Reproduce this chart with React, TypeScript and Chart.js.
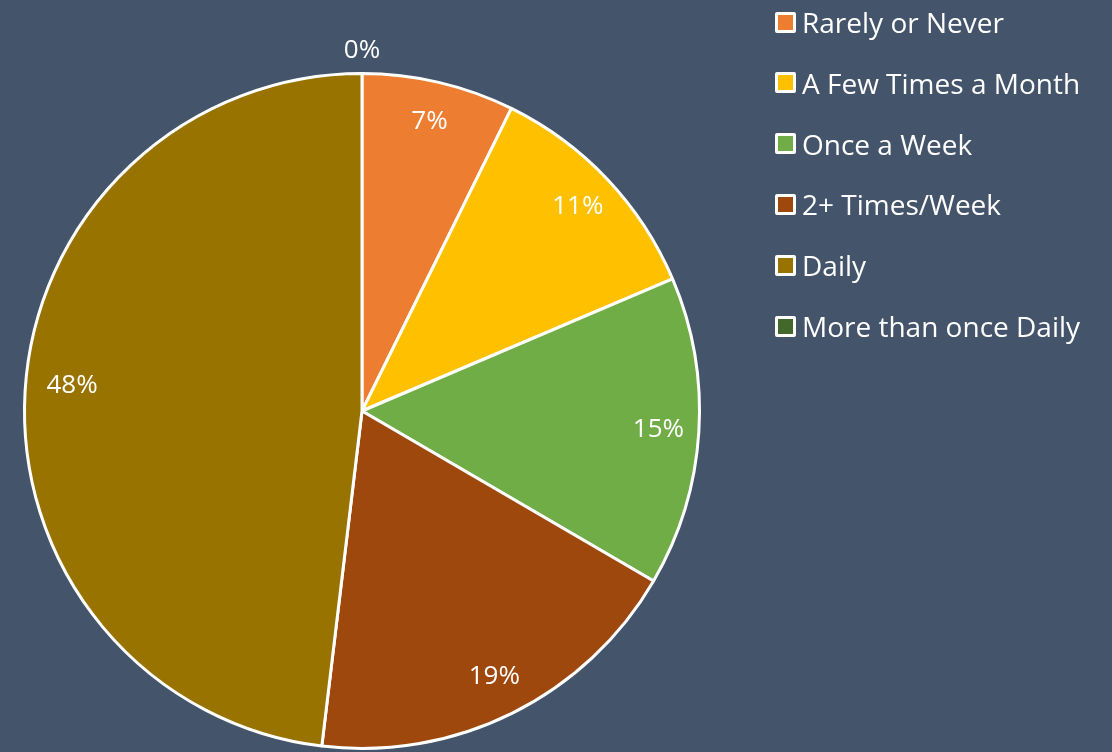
import React, { useEffect, useRef } from "react";
import { Chart, registerables } from "chart.js";

Chart.register(...registerables);

const categories = [
  "Rarely or Never",
  "A Few Times a Month",
  "Once a Week",
  "2+ Times/Week",
  "Daily",
  "More than once Daily",
];
const values = [7.3, 11.3, 14.8, 18.5, 48.1, 0];
const percentLabels = ["7%", "11%", "15%", "19%", "48%", "0%"];
const colors = ["#ED7D31", "#FFC000", "#70AD47", "#9E480E", "#997300", "#43682B"];

const BG = "#44546A";
const FONT = "'Open Sans', Lato, sans-serif";

const labelPlugin = {
  id: "pctLabels",
  afterDatasetsDraw(chart: any) {
    const ctx = chart.ctx;
    const meta = chart.getDatasetMeta(0);
    ctx.save();
    ctx.fillStyle = "#FFFFFF";
    ctx.font = `26px ${FONT}`;
    ctx.textAlign = "center";
    ctx.textBaseline = "middle";
    meta.data.forEach((arc: any, i: number) => {
      const { x, y, startAngle, endAngle, outerRadius } = arc.getProps(
        ["x", "y", "startAngle", "endAngle", "outerRadius"],
        true
      );
      const mid = (startAngle + endAngle) / 2;
      const dist = values[i] === 0 ? outerRadius + 23 : outerRadius * 0.88;
      let lx = x + Math.cos(mid) * dist;
      let ly = y + Math.sin(mid) * dist;
      const w = ctx.measureText(percentLabels[i]).width;
      const minX = x - outerRadius + w / 2 + 22;
      if (values[i] !== 0 && lx < minX) {
        lx = minX;
        ly -= 8;
      }
      ctx.fillText(percentLabels[i], lx, ly);
    });
    ctx.restore();
  },
};

export default function App() {
  const ref = useRef<HTMLCanvasElement>(null);
  useEffect(() => {
    if (!ref.current) return;
    const chart = new Chart(ref.current, {
      type: "pie",
      data: {
        labels: categories,
        datasets: [
          {
            data: values,
            backgroundColor: colors,
            borderColor: "#FFFFFF",
            borderWidth: 3,
          },
        ],
      },
      options: {
        animation: false,
        responsive: false,
        maintainAspectRatio: false,
        layout: { padding: { left: 23, top: 72, right: 411, bottom: 2 } },
        plugins: {
          legend: { display: false },
          tooltip: { enabled: false },
        },
      },
      plugins: [labelPlugin],
    });
    return () => chart.destroy();
  }, []);

  return (
    <div
      style={{
        position: "fixed",
        left: 0,
        top: 0,
        width: 1112,
        height: 752,
        background: BG,
        overflow: "hidden",
      }}
    >
      <canvas ref={ref} width={1112} height={752} style={{ position: "absolute", left: 0, top: 0 }} />
      <div style={{ position: "absolute", left: 775, top: 0 }}>
        {categories.map((c, i) => (
          <div
            key={c}
            style={{
              position: "absolute",
              left: 0,
              top: 22 + i * 60.8 - 20,
              height: 40,
              display: "flex",
              alignItems: "center",
              whiteSpace: "nowrap",
              fontFamily: FONT,
              fontSize: 28,
              color: "#FFFFFF",
            }}
          >
            <span
              style={{
                display: "inline-block",
                width: 15,
                height: 15,
                border: "3px solid #FFFFFF",
                borderRadius: 2,
                background: colors[i],
                marginRight: 6,
              }}
            />
            <span>{c}</span>
          </div>
        ))}
      </div>
    </div>
  );
}
